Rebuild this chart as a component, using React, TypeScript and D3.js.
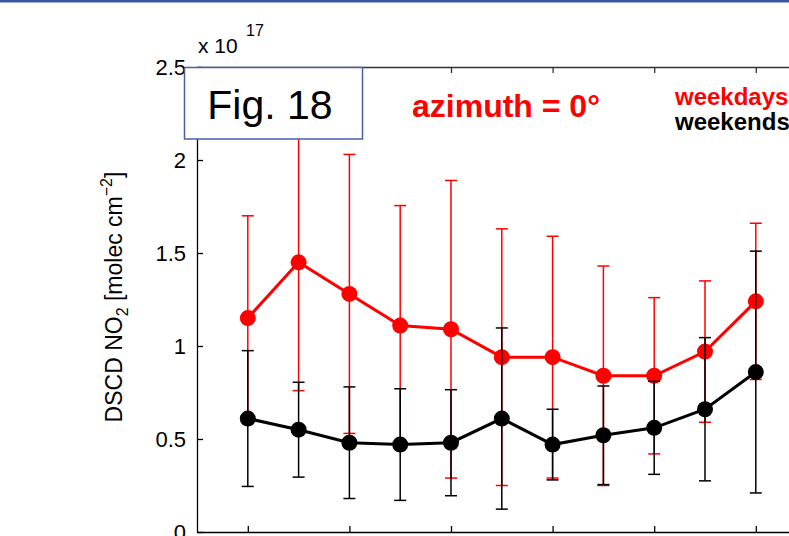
import React, { useEffect, useRef } from "react"
import * as d3 from "d3"

// x positions of the 11 measurements
const xValues = [1, 2, 3, 4, 5, 6, 7, 8, 9, 10, 11]
const xTicks = [1, 3, 5, 7, 9, 11]
const yTicks = [0, 0.5, 1, 1.5, 2, 2.5]

// DSCD NO2 in units of 1e17 molec cm-2
const weekdayMean = [1.15, 1.45, 1.28, 1.11, 1.09, 0.94, 0.94, 0.84, 0.84, 0.97, 1.24]
const weekdayErr = [0.55, 0.69, 0.75, 0.645, 0.8, 0.69, 0.65, 0.59, 0.42, 0.38, 0.42]
const weekendMean = [0.61, 0.55, 0.48, 0.47, 0.48, 0.61, 0.47, 0.52, 0.56, 0.66, 0.86]
const weekendErr = [0.365, 0.255, 0.3, 0.3, 0.285, 0.487, 0.19, 0.265, 0.25, 0.385, 0.65]

const FONT = "'Liberation Sans', Arial, Helvetica, sans-serif"

export default function App() {
  const ref = useRef<SVGSVGElement>(null)

  useEffect(() => {
    const svg = d3.select(ref.current)
    svg.selectAll("*").remove()

    const width = 789

    const x = d3.scaleLinear().domain([0, 12]).range([197, 806.6])
    const y = d3.scaleLinear().domain([0, 2.5]).range([532, 67])

    // slide frame line at the very top
    svg.append("rect").attr("x", 0).attr("y", 0).attr("width", width).attr("height", 2.5).attr("fill", "#3b56a3")

    // axes box
    const left = svg
      .append("g")
      .attr("transform", `translate(${x(0)},0)`)
      .call(
        d3
          .axisLeft(y)
          .tickValues(yTicks)
          .tickSizeInner(-6)
          .tickSizeOuter(0)
          .tickPadding(11)
          .tickFormat((d) => String(d))
      )
    left.attr("font-family", FONT).attr("font-size", 22)
    left.selectAll("text").attr("font-family", FONT).attr("font-size", 22).attr("fill", "#000")
    left.selectAll("line, path").attr("stroke", "#000").attr("stroke-width", 1.3)

    const bottom = svg
      .append("g")
      .attr("transform", `translate(0,${y(0)})`)
      .call(d3.axisBottom(x).tickValues(xTicks).tickSizeInner(-6).tickSizeOuter(0).tickFormat(() => ""))
    bottom.selectAll("line, path").attr("stroke", "#000").attr("stroke-width", 1.3)

    const top = svg
      .append("g")
      .attr("transform", `translate(0,${y(2.5)})`)
      .call(d3.axisTop(x).tickValues(xTicks).tickSizeInner(-6).tickSizeOuter(0).tickFormat(() => ""))
    top.selectAll("line, path").attr("stroke", "#333").attr("stroke-width", 1.3)

    // exponent label
    const exp = svg.append("text").attr("font-family", FONT).attr("fill", "#000")
    exp.append("tspan").attr("x", 198).attr("y", 53).attr("font-size", 21).text("x 10")
    exp.append("tspan").attr("x", 246).attr("y", 36).attr("font-size", 16).text("17")

    // y label
    const yl = svg
      .append("text")
      .attr("font-family", FONT)
      .attr("font-size", 23)
      .attr("text-anchor", "middle")
      .attr("transform", "translate(122,297) rotate(-90)")
    yl.append("tspan").text("DSCD NO")
    yl.append("tspan").attr("font-size", 16).attr("dy", 6).text("2")
    yl.append("tspan").attr("dy", -6).text(" [molec cm")
    yl.append("tspan").attr("font-size", 16).attr("dy", -10).text("−2")
    yl.append("tspan").attr("dy", 10).text("]")

    // one series: error bars, line, markers
    function drawSeries(mean: number[], err: number[], color: string) {
      const g = svg.append("g")
      const cap = 6
      const bars = g
        .selectAll("g.eb")
        .data(xValues)
        .enter()
        .append("g")
        .attr("stroke", color)
        .attr("stroke-width", 1.5)
      bars
        .append("line")
        .attr("x1", (d) => x(d))
        .attr("x2", (d) => x(d))
        .attr("y1", (d, i) => y(mean[i] - err[i]))
        .attr("y2", (d, i) => y(mean[i] + err[i]))
      bars
        .append("line")
        .attr("x1", (d) => x(d) - cap)
        .attr("x2", (d) => x(d) + cap)
        .attr("y1", (d, i) => y(mean[i] + err[i]))
        .attr("y2", (d, i) => y(mean[i] + err[i]))
      bars
        .append("line")
        .attr("x1", (d) => x(d) - cap)
        .attr("x2", (d) => x(d) + cap)
        .attr("y1", (d, i) => y(mean[i] - err[i]))
        .attr("y2", (d, i) => y(mean[i] - err[i]))

      const line = d3
        .line<number>()
        .x((d) => x(d))
        .y((d, i) => y(mean[i]))
      g.append("path").datum(xValues).attr("d", line).attr("fill", "none").attr("stroke", color).attr("stroke-width", 3)

      g.selectAll("circle")
        .data(xValues)
        .enter()
        .append("circle")
        .attr("cx", (d) => x(d))
        .attr("cy", (d, i) => y(mean[i]))
        .attr("r", 8)
        .attr("fill", color)
    }

    drawSeries(weekdayMean, weekdayErr, "#ff0000")
    drawSeries(weekendMean, weekendErr, "#000000")

    // Fig. box
    svg
      .append("rect")
      .attr("x", 184.5)
      .attr("y", 67.5)
      .attr("width", 178)
      .attr("height", 71.5)
      .attr("fill", "#fff")
      .attr("stroke", "#4a5ea8")
      .attr("stroke-width", 1.5)
    svg
      .append("text")
      .attr("x", 270)
      .attr("y", 119)
      .attr("text-anchor", "middle")
      .attr("font-family", FONT)
      .attr("font-size", 41)
      .text("Fig. 18")

    // annotations
    svg
      .append("text")
      .attr("x", 412)
      .attr("y", 117)
      .attr("font-family", FONT)
      .attr("font-weight", "bold")
      .attr("font-size", 32)
      .attr("fill", "#ff0000")
      .text("azimuth = 0°")
    svg
      .append("text")
      .attr("x", 675)
      .attr("y", 105)
      .attr("font-family", FONT)
      .attr("font-weight", "bold")
      .attr("font-size", 24)
      .attr("fill", "#ff0000")
      .text("weekdays")
    svg
      .append("text")
      .attr("x", 675)
      .attr("y", 130)
      .attr("font-family", FONT)
      .attr("font-weight", "bold")
      .attr("font-size", 24)
      .attr("fill", "#000")
      .text("weekends")
  }, [])

  return (
    <div style={{ position: "absolute", left: 0, top: 0, background: "#fff" }}>
      <svg ref={ref} width={789} height={536} style={{ display: "block" }} />
    </div>
  )
}
